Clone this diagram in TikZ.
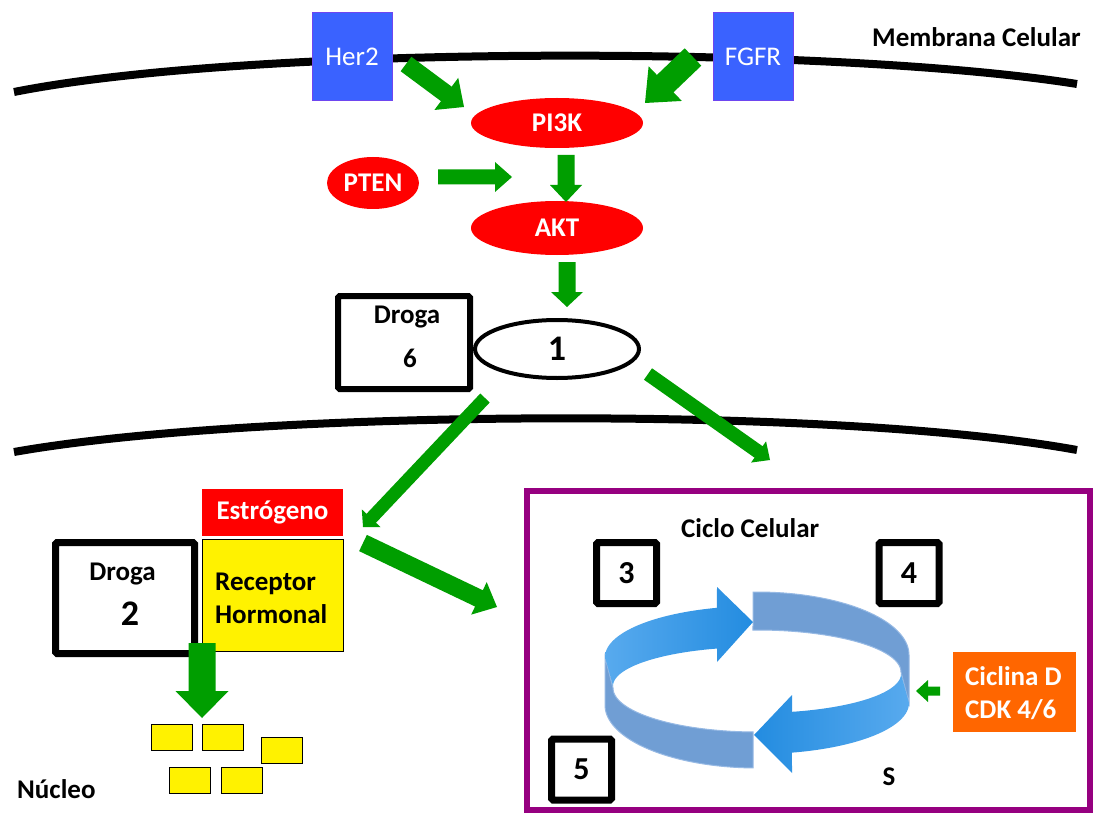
\documentclass[tikz,border=0pt]{standalone}
\usepackage{fontspec}
\setmainfont{Carlito}
\usetikzlibrary{shapes.geometric,calc}
\definecolor{ggreen}{RGB}{0,158,0}
\definecolor{rblue}{RGB}{58,98,255}
\definecolor{rblueb}{RGB}{110,70,240}
\definecolor{purp}{RGB}{150,0,128}
\definecolor{orng}{RGB}{255,102,0}
\definecolor{cband}{RGB}{112,158,212}
\definecolor{cbandline}{RGB}{150,185,228}
\definecolor{cbright}{RGB}{35,140,224}
\definecolor{cbrightl}{RGB}{88,170,238}
\newcommand\blockarrow[5]{%
  \path ($(#2)!#5!(#1)$) coordinate (bahd);
  \fill[ggreen] ($(#1)!#3!90:(#2)$) -- ($(bahd)!#3!90:(#2)$) -- ($(bahd)!#4!90:(#2)$) -- (#2)
    -- ($(bahd)!#4!-90:(#2)$) -- ($(bahd)!#3!-90:(#2)$) -- ($(#1)!#3!-90:(#2)$) -- cycle;}
\begin{document}
\begin{tikzpicture}[x=1pt,y=-1pt,
  txt/.style={font=\fontsize{27}{30}\selectfont\bfseries, inner sep=0pt},
  wtxt/.style={txt, text=white},
  bigtxt/.style={font=\fontsize{36}{40}\selectfont\bfseries, inner sep=0pt},
  rbox/.style={draw=rblueb, line width=1pt, fill=rblue, minimum width=80, minimum height=88, inner sep=0pt,
    text=white, font=\fontsize{27}{30}\selectfont},
  redell/.style={ellipse, fill=red, inner sep=0pt, text=white, font=\fontsize{27}{30}\selectfont\bfseries},
  thickbox/.style={draw=black, fill=white, rounded corners=1.5pt, inner sep=0pt},
  numbox/.style={thickbox, line width=7pt, minimum width=60, minimum height=61,
    font=\fontsize{32}{36}\selectfont\bfseries},
  ybox/.style={draw=black, line width=1pt, fill=yellow, minimum width=41, minimum height=26, inner sep=0pt},
  membrane/.style={line width=8pt, black},
  band/.style={fill=cband, draw=cbandline, line width=1pt},
  bright/.style={left color=cbrightl, right color=cbright, draw=none},
  bright2/.style={left color=cbright, right color=cbrightl, draw=none}
]
\useasboundingbox (0,0) rectangle (1099,826);
\fill[white] (0,0) rectangle (1099,826);

% membranes
\draw[membrane] (14,92) .. controls (250,45) and (830,45) .. (1077,84);
\draw[membrane] (14,452) .. controls (250,410) and (830,405) .. (1077,450);
\node[txt, anchor=base west] (memlbl) at (872,47) {Membrana Celular};

% receptors and pathway
\node[rbox] (her2) at (352,57) {Her2};
\node[rbox] (fgfr) at (753,57) {FGFR};
\node[redell, minimum width=172, minimum height=50] (pi3k) at (557,123) {PI3K};
\node[redell, minimum width=92, minimum height=52] (pten) at (373,183) {PTEN};
\node[redell, minimum width=172, minimum height=54] (akt) at (557,228) {AKT};

% droga 6 and 1
\node[thickbox, line width=6pt, minimum width=132, minimum height=93] (droga6) at (404,342.5) {};
\node[txt, anchor=base] (droga6a) at (407,323) {Droga};
\node[txt, anchor=base] (droga6b) at (410,367) {6};
\node[ellipse, draw=black, line width=4pt, fill=white, minimum width=164, minimum height=58,
  inner sep=0pt, bigtxt] (one) at (557,349) {1};

% hormone receptor, droga 2
\node[fill=red, minimum width=141, minimum height=47, inner sep=0pt, wtxt] (estr) at (272.5,512.5) {Estrógeno};
\node[draw=black, line width=1pt, fill=yellow, minimum width=141, minimum height=112] (recep) at (272.5,595) {};
\node[txt, anchor=base west] (recepa) at (215,590) {Receptor};
\node[txt, anchor=base west] (recepb) at (215,623) {Hormonal};
\node[thickbox, line width=7pt, minimum width=139, minimum height=111] (droga2) at (125,598) {};
\node[txt, anchor=base] (droga2a) at (122.5,580) {Droga};
\node[bigtxt, anchor=base] (droga2b) at (130,625) {2};

% yellow blocks
\node[ybox] (y1) at (171.5,737) {};
\node[ybox] (y2) at (222.5,737) {};
\node[ybox] (y3) at (282,750.5) {};
\node[ybox] (y4) at (189.5,780) {};
\node[ybox] (y5) at (241.5,780.5) {};
\node[txt, anchor=base west] (nucleo) at (17,798) {Núcleo};

% cell cycle box
\node[draw=purp, line width=6pt, minimum width=563, minimum height=319, inner sep=0pt] (cycbox) at (808.5,650.5) {};
\node[txt, anchor=base west] (ciclo) at (681,537) {Ciclo Celular};
\node[numbox] (b3) at (626.5,573) {3};
\node[numbox] (b4) at (909,573) {4};
\node[numbox] (b5) at (581.5,769.5) {5};
\node[txt, anchor=base] (sphase) at (889,785) {S};
\node[fill=orng, minimum width=123, minimum height=80, inner sep=0pt] (ciclina) at (1014.5,692) {};
\node[wtxt, anchor=base west] (ciclinaa) at (965,685) {Ciclina D};
\node[wtxt, anchor=base west] (ciclinab) at (965,718) {CDK 4/6};

% cycle ribbon
\fill[band] plot[domain=91.5:0, samples=40] ({757+152*cos(\x)},{655-63*sin(\x)}) -- (909,703)
  -- plot[domain=0:91.6, samples=40] ({757+144*cos(\x)},{672-42*sin(\x)}) -- cycle;
\fill[band] plot[domain=180:268.5, samples=40] ({757+152*cos(\x)},{705-63*sin(\x)})
  -- plot[domain=268.5:180, samples=40] ({757+144*cos(\x)},{688-44*sin(\x)}) -- (605,657) -- cycle;
\shade[bright] plot[domain=180:105.3, samples=40] ({757+152*cos(\x)},{657-51*sin(\x)})
  -- (717,587) -- (753,622) -- (717,662)
  -- plot[domain=106.1:180, samples=40] ({757+144*cos(\x)},{686-39*sin(\x)}) -- cycle;
\shade[bright2] plot[domain=0:-76.7, samples=40] ({757+152*cos(\x)},{703-51*sin(\x)})
  -- (792,773) -- (754,735) -- (792,695)
  -- plot[domain=-75.9:0, samples=40] ({757+144*cos(\x)},{674-39*sin(\x)}) -- cycle;

% arrow end points
\coordinate (a1s) at (406,64);  \coordinate (a1e) at (464,107);
\coordinate (a2s) at (693,57);  \coordinate (a2e) at (645,103);
\coordinate (a3s) at (438,177); \coordinate (a3e) at (512,177);
\coordinate (a4s) at (566,155); \coordinate (a4e) at (566,202);
\coordinate (a5s) at (567,262); \coordinate (a5e) at (567,307);
\coordinate (a6s) at (485,398); \coordinate (a6e) at (363,527);
\coordinate (a7s) at (648,374); \coordinate (a7e) at (770,460);
\coordinate (a8s) at (363,543); \coordinate (a8e) at (497,607);
\coordinate (a9s) at (202,643); \coordinate (a9e) at (202,718);
\coordinate (a10s) at (940,691); \coordinate (a10e) at (916,691);

\blockarrow{a1s}{a1e}{9pt}{20pt}{22pt}
\blockarrow{a2s}{a2e}{12pt}{24pt}{28pt}
\blockarrow{a3s}{a3e}{7.5pt}{15pt}{17pt}
\blockarrow{a4s}{a4e}{8.5pt}{16pt}{17pt}
\blockarrow{a5s}{a5e}{8.5pt}{16pt}{15pt}
\blockarrow{a6s}{a6e}{6.5pt}{13pt}{12pt}
\blockarrow{a7s}{a7e}{7pt}{13pt}{14pt}
\blockarrow{a8s}{a8e}{9pt}{18pt}{20pt}
\blockarrow{a9s}{a9e}{13.5pt}{26.5pt}{27pt}
\blockarrow{a10s}{a10e}{4.5pt}{11pt}{12pt}
\end{tikzpicture}
\end{document}
